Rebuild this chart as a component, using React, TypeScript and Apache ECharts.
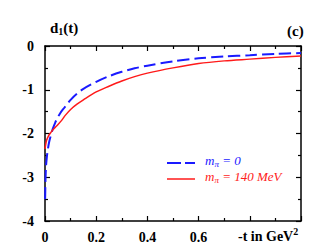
import React, { useEffect, useRef } from "react";
import * as echarts from "echarts";

const xTicks = [0, 0.2, 0.4, 0.6, 0.8, 1.0];
const yTicks = [0, -1, -2, -3, -4];

const tBlue = [0.0005, 0.002, 0.004, 0.007, 0.011, 0.016, 0.022, 0.03, 0.04, 0.05, 0.06, 0.07, 0.085, 0.1, 0.125, 0.15, 0.2, 0.25, 0.3, 0.35, 0.4, 0.5, 0.6, 0.7, 0.8, 0.9, 1.0];
const dBlue = [-3.5, -3.05, -2.75, -2.55, -2.37, -2.2, -2.06, -1.9, -1.75, -1.63, -1.53, -1.45, -1.34, -1.23, -1.09, -0.98, -0.82, -0.69, -0.59, -0.51, -0.45, -0.35, -0.28, -0.24, -0.21, -0.18, -0.16];

const tRed = [0, 0.003, 0.006, 0.01, 0.015, 0.02, 0.03, 0.04, 0.05, 0.065, 0.08, 0.1, 0.125, 0.15, 0.2, 0.25, 0.3, 0.35, 0.4, 0.5, 0.6, 0.7, 0.8, 0.9, 1.0];
const dRed = [-2.35, -2.24, -2.16, -2.1, -2.04, -2.0, -1.92, -1.86, -1.8, -1.7, -1.58, -1.45, -1.33, -1.23, -1.05, -0.92, -0.8, -0.7, -0.62, -0.5, -0.4, -0.34, -0.3, -0.26, -0.23];

const FONT = "'Liberation Serif', 'Times New Roman', serif";

export default function App() {
  const ref = useRef<HTMLDivElement>(null);
  useEffect(() => {
    if (!ref.current) return;
    const chart = echarts.init(ref.current, null, { renderer: "svg" });
    const axisLine = { show: true, onZero: false, lineStyle: { color: "#000", width: 1.5 } };
    const tickCommon = { inside: true, length: 5, lineStyle: { color: "#000", width: 1.2 } };
    const minorCommon = { show: true, splitNumber: 2, length: 3, lineStyle: { color: "#000", width: 1.2 } };
    chart.setOption({
      animation: false,
      backgroundColor: "#fff",
      grid: { left: 45, right: 26, top: 46, bottom: 31 },
      xAxis: [
        {
          type: "value",
          position: "bottom",
          min: 0,
          max: 1,
          interval: 0.2,
          axisLine,
          axisTick: tickCommon,
          minorTick: minorCommon,
          splitLine: { show: false },
          axisLabel: {
            color: "#000",
            fontFamily: FONT,
            fontWeight: "bold",
            fontSize: 14,
            margin: 9,
            formatter: (v: number) => (v > 0.7 ? "" : xTicks.includes(v) ? (v === 0 ? "0" : v.toFixed(1)) : ""),
          },
        },
        {
          type: "value",
          position: "top",
          min: 0,
          max: 1,
          interval: 0.2,
          axisLine,
          axisTick: tickCommon,
          minorTick: minorCommon,
          splitLine: { show: false },
          axisLabel: { show: false },
        },
      ],
      yAxis: [
        {
          type: "value",
          position: "left",
          min: -4,
          max: 0,
          interval: 1,
          axisLine,
          axisTick: tickCommon,
          minorTick: minorCommon,
          splitLine: { show: false },
          axisLabel: {
            color: "#000",
            fontFamily: FONT,
            fontWeight: "bold",
            fontSize: 14,
            margin: 11,
            formatter: (v: number) => (yTicks.includes(v) ? String(v) : ""),
          },
        },
        {
          type: "value",
          position: "right",
          min: -4,
          max: 0,
          interval: 1,
          axisLine,
          axisTick: tickCommon,
          minorTick: minorCommon,
          splitLine: { show: false },
          axisLabel: { show: false },
        },
      ],
      series: [
        {
          type: "line",
          data: tBlue.map((t, i) => [t, dBlue[i]]),
          smooth: 0.3,
          showSymbol: false,
          clip: true,
          lineStyle: { color: "#1a1aff", width: 2, type: [12, 5] },
        },
        {
          type: "line",
          data: tRed.map((t, i) => [t, dRed[i]]),
          smooth: 0.3,
          showSymbol: false,
          clip: true,
          lineStyle: { color: "#ff1a1a", width: 1.5 },
        },
      ],
      graphic: [
        {
          type: "text",
          left: 50,
          top: 20,
          style: {
            text: "{m|d}{s|1}{m|(t)}",
            rich: {
              m: { fontFamily: FONT, fontWeight: "bold", fontSize: 15, fill: "#000" },
              s: { fontFamily: FONT, fontWeight: "bold", fontSize: 10, fill: "#000", padding: [8, 0, 0, 0] },
            },
          },
        },
        {
          type: "text",
          left: 287,
          top: 23,
          style: { text: "(c)", fontFamily: FONT, fontWeight: "bold", fontSize: 15, fill: "#000" },
        },
        {
          type: "text",
          left: 238,
          top: 226,
          style: {
            text: "{m|-t in GeV}{s|2}",
            rich: {
              m: { fontFamily: FONT, fontWeight: "bold", fontSize: 14, fill: "#000", padding: [6, 0, 0, 0] },
              s: { fontFamily: FONT, fontWeight: "bold", fontSize: 10, fill: "#000", padding: [0, 0, 4, 0] },
            },
          },
        },
        {
          type: "line",
          shape: { x1: 167, y1: 163, x2: 195, y2: 163 },
          style: { stroke: "#1a1aff", lineWidth: 2, lineDash: [14, 4] },
        },
        {
          type: "text",
          left: 205,
          top: 154,
          style: {
            text: "{m|m}{s|π}{m| = 0}",
            rich: {
              m: { fontFamily: FONT, fontStyle: "italic", fontSize: 13, fill: "#1a1aff" },
              s: { fontFamily: FONT, fontStyle: "italic", fontSize: 9, fill: "#1a1aff", padding: [6, 0, 0, 0] },
            },
          },
        },
        {
          type: "line",
          shape: { x1: 167, y1: 179, x2: 195, y2: 179 },
          style: { stroke: "#ff1a1a", lineWidth: 1.5 },
        },
        {
          type: "text",
          left: 205,
          top: 170,
          style: {
            text: "{m|m}{s|π}{m| = 140 MeV}",
            rich: {
              m: { fontFamily: FONT, fontStyle: "italic", fontSize: 13, fill: "#ff1a1a" },
              s: { fontFamily: FONT, fontStyle: "italic", fontSize: 9, fill: "#ff1a1a", padding: [6, 0, 0, 0] },
            },
          },
        },
      ],
    });
    return () => chart.dispose();
  }, []);
  return <div ref={ref} style={{ width: 327, height: 252, position: "absolute", left: 0, top: 0 }} />;
}
